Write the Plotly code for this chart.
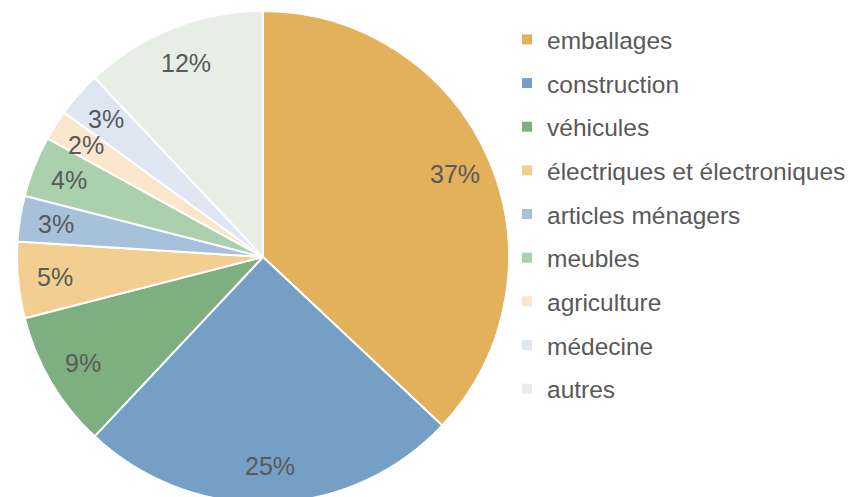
import math
import plotly.graph_objects as go

# data
categories = ["emballages", "construction", "véhicules", "électriques et électroniques",
              "articles ménagers", "meubles", "agriculture", "médecine", "autres"]
shares = [37, 25, 9, 5, 3, 4, 2, 3, 12]
colors = ["#E3B05B", "#759FC5", "#7EAF80", "#F2CF90", "#A7C1DB",
          "#AAD0AD", "#FAE6CD", "#DEE6F1", "#E6EEE5"]

W, H = 855, 497
TOP, BOTTOM = 3, 2
plot_h = H - TOP - BOTTOM
cx_px = 255
dom_w = 2 * cx_px
r_px = min(dom_w, plot_h) / 2
label_r = 0.85
font = "Liberation Sans, Arial, sans-serif"
grey = "#595959"

fig = go.Figure()

fig.add_trace(go.Pie(
    labels=categories, values=shares,
    marker=dict(colors=colors, line=dict(color="white", width=2)),
    sort=False, direction="clockwise", rotation=0,
    textinfo="none", hoverinfo="label+percent",
    showlegend=False,
    domain=dict(x=[0, dom_w / W], y=[0, 1]),
))

# legend entries, one group each so the gap between rows can be set
for name, col in zip(categories, colors):
    fig.add_trace(go.Scatter(
        x=[None], y=[None], mode="markers", name=name, legendgroup=name,
        marker=dict(symbol="square", size=10, color=col),
    ))

# percentage labels at the middle angle of each slice (unit-circle axes)
total = sum(shares)
cum = 0
for v in shares:
    mid = (cum + v / 2) / total * 2 * math.pi
    cum += v
    fig.add_annotation(
        x=label_r * math.sin(mid), y=label_r * math.cos(mid), xref="x", yref="y",
        text=f"{round(100 * v / total)}%", showarrow=False,
        font=dict(family=font, size=25, color=grey),
    )

fig.update_xaxes(visible=False, domain=[0, dom_w / W],
                 range=[-dom_w / 2 / r_px, dom_w / 2 / r_px])
fig.update_yaxes(visible=False, range=[-plot_h / 2 / r_px, plot_h / 2 / r_px])

fig.update_layout(
    width=W, height=H,
    margin=dict(l=0, r=0, t=TOP, b=BOTTOM),
    paper_bgcolor="white", plot_bgcolor="white",
    font=dict(family=font, color=grey),
    legend=dict(x=499 / W, xanchor="left", y=1 - 6 / plot_h, yanchor="top",
                font=dict(size=24.5, color=grey), tracegroupgap=8.8,
                bgcolor="rgba(0,0,0,0)"),
)

fig.write_html("out.html")
